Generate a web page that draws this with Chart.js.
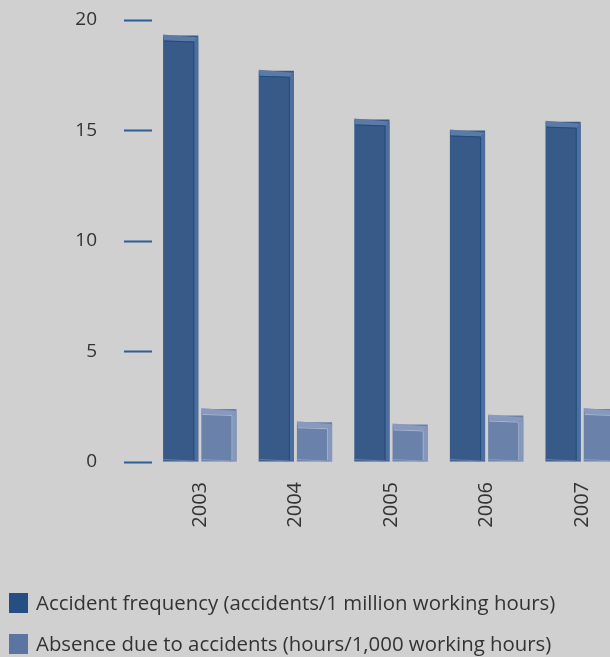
<!DOCTYPE html>
<html lang="en">
<head>
    <meta charset="UTF-8">
    <title>Accidents 2003-2007</title>
    <style>
        body {
            margin: 0;
            background-color: #cfd0cf;
            overflow: hidden;
            font-family: 'Open Sans', sans-serif;
        }
        #wrap {
            position: relative;
            width: 630px;
            height: 657px;
        }
        #legend {
            position: absolute;
            left: 9px;
            top: 582px;
            margin: 0;
            padding: 0;
            list-style: none;
        }
        #legend li {
            height: 41px;
            line-height: 41px;
            font-size: 20.4px;
            color: #333333;
            white-space: nowrap;
        }
        #legend span {
            display: inline-block;
            width: 19px;
            height: 20px;
            margin-right: 8px;
            vertical-align: -3px;
        }
    </style>
    <script src="https://cdn.jsdelivr.net/npm/chart.js"></script>
</head>
<body>
    <div id="wrap">
        <canvas id="chart" width="630" height="657"></canvas>
        <ul id="legend"></ul>
    </div>

    <script>
        const years = ['2003', '2004', '2005', '2006', '2007'];
        const accidentFrequency = [19.3, 17.7, 15.5, 15.0, 15.4];
        const absenceHours = [2.4, 1.8, 1.7, 2.1, 2.4];
        const yTicks = [0, 5, 10, 15, 20];

        const darkBlue = '#385a88';
        const lightBlue = '#6a81aa';
        const legendColors = ['#254f82', '#5b74a1'];

        // Bevelled look: light top edge and a narrow side strip on each bar
        const bevelPlugin = {
            id: 'bevel',
            afterDatasetsDraw(chart) {
                const ctx = chart.ctx;
                chart.data.datasets.forEach((ds, i) => {
                    chart.getDatasetMeta(i).data.forEach(bar => {
                        const left = bar.x - bar.width / 2;
                        const right = bar.x + bar.width / 2;
                        const top = bar.y;
                        const bottom = bar.base;
                        ctx.save();
                        // top rim
                        ctx.fillStyle = i === 0 ? '#5b7aa6' : '#8799bd';
                        ctx.beginPath();
                        ctx.moveTo(left, top - 1);
                        ctx.lineTo(right, top + 2);
                        ctx.lineTo(right - 4, top + 6);
                        ctx.lineTo(left + 1, top + 5);
                        ctx.closePath();
                        ctx.fill();
                        // side strip
                        ctx.fillStyle = i === 0 ? '#4e6f9e' : '#8597bb';
                        ctx.beginPath();
                        ctx.moveTo(right - 4, top + 6);
                        ctx.lineTo(right, top + 2);
                        ctx.lineTo(right, bottom);
                        ctx.lineTo(right - 4, bottom - 1);
                        ctx.closePath();
                        ctx.fill();
                        // inner edge lines
                        ctx.strokeStyle = i === 0 ? '#1f4c80' : '#a7b4cf';
                        ctx.lineWidth = 1;
                        ctx.beginPath();
                        ctx.moveTo(left + 1, top + 5.5);
                        ctx.lineTo(right - 4.5, top + 6.5);
                        ctx.lineTo(right - 4.5, bottom - 1);
                        ctx.stroke();
                        // bottom rim
                        ctx.strokeStyle = i === 0 ? '#6680a8' : '#8a9bbd';
                        ctx.beginPath();
                        ctx.moveTo(left, bottom - 2);
                        ctx.lineTo(right - 4, bottom - 0.5);
                        ctx.stroke();
                        ctx.restore();
                    });
                });
            }
        };

        const ctx = document.getElementById('chart').getContext('2d');
        const chart = new Chart(ctx, {
            type: 'bar',
            data: {
                labels: years,
                datasets: [
                    {
                        label: 'Accident frequency (accidents/1 million working hours)',
                        data: accidentFrequency,
                        backgroundColor: darkBlue
                    },
                    {
                        label: 'Absence due to accidents (hours/1,000 working hours)',
                        data: absenceHours,
                        backgroundColor: lightBlue
                    }
                ]
            },
            options: {
                responsive: false,
                animation: false,
                layout: { padding: { top: 20, left: 0, right: 0, bottom: 0 } },
                datasets: {
                    bar: { categoryPercentage: 0.8, barPercentage: 0.92 }
                },
                scales: {
                    x: {
                        grid: { display: false },
                        border: { display: false },
                        ticks: {
                            minRotation: 90,
                            maxRotation: 90,
                            padding: 12,
                            color: '#333333',
                            font: { family: 'Open Sans', size: 20 }
                        },
                        afterFit(scale) { scale.height = 195; }
                    },
                    y: {
                        min: 0,
                        max: 20,
                        afterBuildTicks(scale) {
                            scale.ticks = yTicks.map(v => ({ value: v }));
                        },
                        grid: {
                            drawOnChartArea: false,
                            tickLength: 28,
                            tickWidth: 2,
                            tickColor: '#2f5d95'
                        },
                        border: { display: false },
                        ticks: {
                            padding: 27,
                            color: '#333333',
                            font: { family: 'Open Sans', size: 19 }
                        },
                        afterFit(scale) {
                            scale.width = 152;
                            scale.paddingTop = 0;
                            scale.paddingBottom = 0;
                        }
                    }
                },
                plugins: {
                    legend: { display: false },
                    tooltip: { enabled: false }
                }
            },
            plugins: [bevelPlugin]
        });

        // Legend list built from the datasets
        const legend = document.getElementById('legend');
        chart.data.datasets.forEach((ds, i) => {
            const item = document.createElement('li');
            const box = document.createElement('span');
            box.style.background = 'linear-gradient(to right, ' + legendColors[i] + ', ' + legendColors[i] + ')';
            item.appendChild(box);
            item.appendChild(document.createTextNode(ds.label));
            legend.appendChild(item);
        });
    </script>
</body>
</html>
